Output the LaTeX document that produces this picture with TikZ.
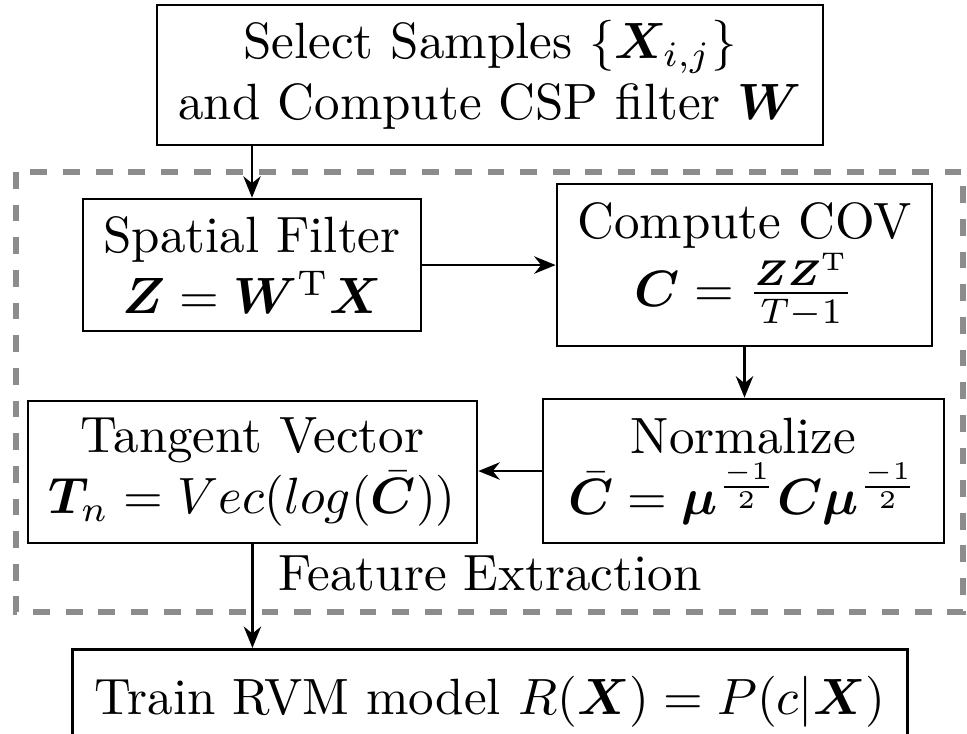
\documentclass[tikz,border=0pt]{standalone}
\usepackage{bm}
\usepackage{tikz}
\usetikzlibrary{arrows.meta}
\usetikzlibrary{calc}
\tikzset{
  % A processing step: name on the first line, formula on the second
  stage/.style={
    draw=black, line width=0.55pt, fill=white, align=center,
    inner sep=3pt, minimum width=#1},
  % The dashed frame round the feature extraction steps
  groupbox/.style={
    draw=black!45, line width=1pt, dash pattern=on 3.3pt off 3.1pt},
  grouplbl/.style={inner sep=0pt, anchor=base},
  % Data flow
  flow/.style={-{Stealth[length=4.2pt, width=3.4pt]}, line width=0.55pt, draw=black},
}

\begin{document}
\begin{tikzpicture}

  \useasboundingbox (0,0) rectangle (6.662,-5.056);

  \draw[groupbox] (0.110,-1.185) rectangle (6.634,-4.216);
  \node[grouplbl] (fe) at (3.376,-4.071) {Feature Extraction};

  \node[stage=4.588cm, minimum height=0.937cm] (sel) at (3.376,-0.517)
    {Select Samples $\{\bm{X}_{i,j}\}$\\and Compute CSP filter $\bm{W}$};
  \node[stage=2.328cm, minimum height=0.909cm] (spat) at (1.736,-1.826)
    {Spatial Filter\\$\bm{Z}=\bm{W}^{\mathrm{T}}\bm{X}$};
  \node[stage=2.583cm, minimum height=1.116cm] (cov) at (5.129,-1.826)
    {Compute COV\\$\bm{C}=\frac{\bm{Z}\bm{Z}^{\mathrm{T}}}{T-1}$};
  \node[stage=2.762cm, minimum height=0.992cm] (norm) at (5.122,-3.245)
    {Normalize\\$\bar{\bm{C}}=\bm{\mu}^{\frac{-1}{2}}\bm{C}\bm{\mu}^{\frac{-1}{2}}$};
  \node[stage=3.093cm, minimum height=0.978cm] (tang) at (1.739,-3.252)
    {Tangent Vector\\$\bm{T}_n=Vec(log(\bar{\bm{C}}))$};
  \node[stage=5.752cm, minimum height=0.72cm, anchor=north] (train) at (3.376,-4.464)
    {Train RVM model $R(\bm{X})=P(c|\bm{X})$};

  \draw[flow] (sel.south -| spat.north) -- (spat.north);
  \draw[flow] (spat.east) -- (cov.west);
  \draw[flow] (cov.south) -- (cov.south |- norm.north);
  \draw[flow] (norm.west) -- (norm.west -| tang.east);
  \draw[flow] (tang.south) -- (tang.south |- train.north);

\end{tikzpicture}
\end{document}
